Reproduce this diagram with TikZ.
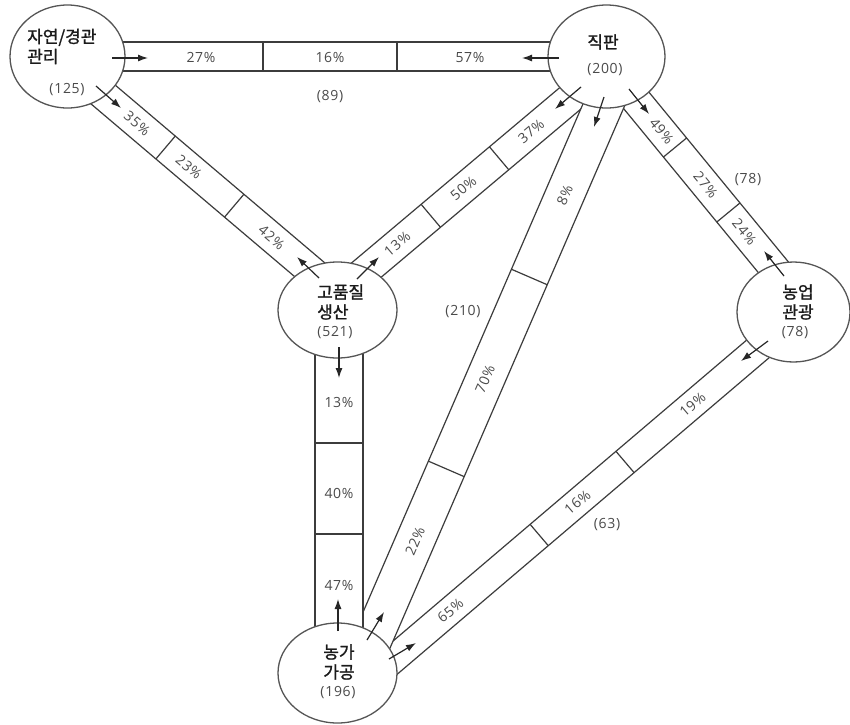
\documentclass[tikz,border=0pt]{standalone}
\usepackage{fontspec}
\usetikzlibrary{shapes.geometric,arrows.meta,calc}
\newfontfamily\kr{Noto Sans CJK KR}[FakeBold=1.3]
\newfontfamily\nf{Open Sans}[LetterSpace=5]
\definecolor{ln}{HTML}{3C3C3C}
\definecolor{cl}{HTML}{555555}
\definecolor{tx}{HTML}{4A4A4A}
\definecolor{kt}{HTML}{1A1A1A}
\begin{document}
\begin{tikzpicture}[x=1pt,y=-1pt,
  bandbox/.style={draw=ln, line width=1.2pt, fill=white},
  divl/.style={draw=ln, line width=1.2pt},
  circ/.style={ellipse, draw=cl, line width=1.3pt, fill=white, inner sep=0},
  pct/.style={font=\nf\fontsize{14}{16}\selectfont, text=tx, inner sep=0},
  kor/.style={font=\kr\fontsize{17}{20}\selectfont, text=kt, inner sep=0, align=left},
  arr/.style={draw=black!85, line width=1.2pt, -{Latex[length=10pt,width=7pt]}}]
\useasboundingbox (0,0) rectangle (850,724);
\fill[white] (0,0) rectangle (850,724);

% band A - C
\begin{scope}[shift={(109,99.5)}, rotate=-40.3]
  \draw[bandbox] (-30,-15) -- (290,-15) -- (290,15) -- (-30,15) -- cycle;
  \draw[divl] (74.2,-15) -- (74.2,15);
  \draw[divl] (164.2,-15) -- (164.2,15);
  \node[pct, rotate=-40.3] (pAC1) at (37,0) {35\%};
  \node[pct, rotate=-40.3] (pAC2) at (104.6,0) {23\%};
  \node[pct, rotate=-40.3] (pAC3) at (213.2,0) {42\%};
\end{scope}

% band B - C
\begin{scope}[shift={(430.8,215.8)}, rotate=40.1]
  \draw[bandbox] (-110,-15) -- (215,-15) -- (215,15) -- (-110,15) -- cycle;
  \draw[divl] (0,-15) -- (0,15);
  \draw[divl] (89.3,-15) -- (89.3,15);
  \node[pct, rotate=40.1] (pBC1) at (-43.8,0) {13\%};
  \node[pct, rotate=40.1] (pBC2) at (42.6,0) {50\%};
  \node[pct, rotate=40.1] (pBC3) at (131.2,0) {37\%};
\end{scope}

% band B - D
\begin{scope}[shift={(675,147.5)}, rotate=-50.6]
  \draw[bandbox] (-90,-15) -- (170,-15) -- (170,15) -- (-90,15) -- cycle;
  \draw[divl] (0,-15) -- (0,15);
  \draw[divl] (84.1,-15) -- (84.1,15);
  \node[pct, rotate=-50.6] (pBD1) at (-21.1,0) {49\%};
  \node[pct, rotate=-50.6] (pBD2) at (48.3,0) {27\%};
  \node[pct, rotate=-50.6] (pBD3) at (109.3,0) {24\%};
\end{scope}

% band D - E
\begin{scope}[shift={(539.2,535)}, rotate=40.4]
  \draw[bandbox] (-205,-14) -- (300,-14) -- (300,14) -- (-205,14) -- cycle;
  \draw[divl] (0,-14) -- (0,14);
  \draw[divl] (112.7,-14) -- (112.7,14);
  \node[pct, rotate=40.4] (pDE1) at (-116.6,0) {65\%};
  \node[pct, rotate=40.4] (pDE2) at (50.3,0) {16\%};
  \node[pct, rotate=40.4] (pDE3) at (201.4,0) {19\%};
\end{scope}

% band B - E
\begin{scope}[shift={(541,250)}, rotate=66.6]
  \draw[bandbox] (-430,-19.5) -- (185,-19.5) -- (185,19.5) -- (-430,19.5) -- cycle;
  \draw[divl] (-29.4,-19.5) -- (-29.4,19.5);
  \draw[divl] (-238.5,-19.5) -- (-238.5,19.5);
  \node[pct, rotate=66.6] (pBE1) at (60,0) {8\%};
  \node[pct, rotate=66.6] (pBE2) at (-140.8,0) {70\%};
  \node[pct, rotate=66.6] (pBE3) at (-317,0) {22\%};
\end{scope}

% band A - B
\draw[bandbox] (100,42) rectangle (580,71);
\draw[divl] (263,42) -- (263,71);
\draw[divl] (397,42) -- (397,71);
\node[pct] (pAB1) at (201,57) {27\%};
\node[pct] (pAB2) at (330,57) {16\%};
\node[pct] (pAB3) at (470,57) {57\%};

% band C - E
\draw[bandbox] (315,320) rectangle (363,650);
\draw[divl] (315,443) -- (363,443);
\draw[divl] (315,534) -- (363,534);
\node[pct] (pCE1) at (339,402) {13\%};
\node[pct] (pCE2) at (339,493) {40\%};
\node[pct] (pCE3) at (339,585) {47\%};

% totals
\node[pct] (tAB) at (330,97) {(89)};
\node[pct] (tBD) at (748,180) {(78)};
\node[pct] (tBE) at (463,312) {(210)};
\node[pct] (tDE) at (607,525) {(63)};

% circles
\node[circ, minimum width=115, minimum height=103] (A) at (67.5,56.5) {};
\node[circ, minimum width=117, minimum height=103] (B) at (606.5,56.5) {};
\node[circ, minimum width=119, minimum height=96] (C) at (337.5,310) {};
\node[circ, minimum width=113, minimum height=100] (D) at (793.5,312) {};
\node[circ, minimum width=119, minimum height=100] (E) at (337.5,673) {};

% circle texts
\node[kor, anchor=west] (Aname) at (27,46.5) {자연/경관\\관리};
\node[pct] (Anum) at (67,90) {(125)};
\node[kor] (Bname) at (603,42) {직판};
\node[pct] (Bnum) at (605,70) {(200)};
\node[kor, anchor=west] (Cname) at (317,302) {고품질\\생산};
\node[pct] (Cnum) at (335,333) {(521)};
\node[kor] (Dname) at (798,302) {농업\\관광};
\node[pct] (Dnum) at (795,333) {(78)};
\node[kor] (Ename) at (339,662) {농가\\가공};
\node[pct] (Enum) at (338,693) {(196)};

% arrows
\draw[arr] (112,58) coordinate (a1s) -- (148,58) coordinate (a1e);
\draw[arr] (559,58) coordinate (a2s) -- (522,58) coordinate (a2e);
\draw[arr] (96,86) coordinate (a3s) -- (121,108) coordinate (a3e);
\draw[arr] (319,278) coordinate (a4s) -- (297,257) coordinate (a4e);
\draw[arr] (357,279) coordinate (a5s) -- (379,257) coordinate (a5e);
\draw[arr] (581,87) coordinate (a6s) -- (555,109) coordinate (a6e);
\draw[arr] (604,97) coordinate (a7s) -- (594,127) coordinate (a7e);
\draw[arr] (629,89) coordinate (a8s) -- (649,114) coordinate (a8e);
\draw[arr] (784,276) coordinate (a9s) -- (764,251) coordinate (a9e);
\draw[arr] (768,341) coordinate (a10s) -- (741,361) coordinate (a10e);
\draw[arr] (389,659) coordinate (a11s) -- (416,643) coordinate (a11e);
\draw[arr] (367,640) coordinate (a12s) -- (384,612) coordinate (a12e);
\draw[arr] (338,631) coordinate (a13s) -- (338,599) coordinate (a13e);
\draw[arr] (339,347) coordinate (a14s) -- (339,378) coordinate (a14e);
\end{tikzpicture}
\end{document}
